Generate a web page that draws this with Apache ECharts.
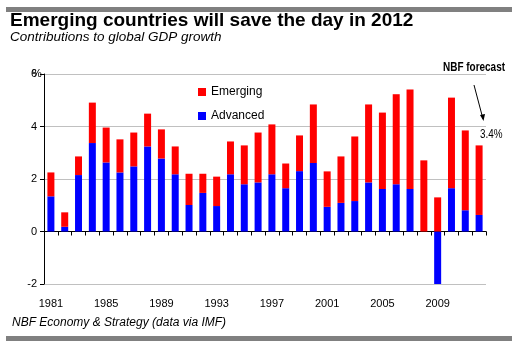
<!DOCTYPE html>
<html><head><meta charset="utf-8">
<script src="https://cdn.jsdelivr.net/npm/echarts@6/dist/echarts.min.js"></script>
<style>html,body{margin:0;padding:0;background:#fff;}#c{width:526px;height:348px;}</style>
</head><body><div id="c"></div>
<script>
var years = ['1981','1982','1983','1984','1985','1986','1987','1988','1989','1990','1991','1992','1993','1994','1995','1996','1997','1998','1999','2000','2001','2002','2003','2004','2005','2006','2007','2008','2009','2010','2011','2012'];
var advanced = [1.34,0.18,2.15,3.37,2.63,2.25,2.48,3.24,2.78,2.18,1.01,1.47,0.97,2.18,1.80,1.87,2.18,1.65,2.30,2.61,0.94,1.09,1.16,1.87,1.62,1.80,1.62,0,-2.04,1.65,0.81,0.63];
var emerging = [0.91,0.55,0.71,1.54,1.33,1.26,1.29,1.25,1.11,1.06,1.19,0.73,1.12,1.25,1.48,1.90,1.90,0.94,1.36,2.23,1.35,1.77,2.46,2.97,2.91,3.43,3.79,2.71,1.30,3.45,3.04,2.65];
var yTicks = [-2,0,2,4,6];

var FONT = 'Arial, "Liberation Sans", sans-serif';
var chart = echarts.init(document.getElementById('c'), null, {renderer:'canvas'});
chart.setOption({
  animation:false,
  backgroundColor:'#fff',
  grid:{left:44,right:40,top:74,bottom:64},
  legend:{
    data:['Emerging','Advanced'], orient:'vertical', left:193, top:81,
    itemWidth:8, itemHeight:8, itemGap:12, icon:'rect',
    textStyle:{fontFamily:FONT,fontSize:12,color:'#000'}
  },
  xAxis:[{
    type:'category', data:years, boundaryGap:true,
    axisLine:{onZero:true,lineStyle:{color:'#000',width:1}},
    axisTick:{show:true,inside:false,length:4,interval:0,lineStyle:{color:'#000'}},
    axisLabel:{show:false}, splitLine:{show:false}
  },{
    type:'category', data:years, position:'bottom', boundaryGap:true,
    axisLine:{show:false,onZero:false}, axisTick:{show:false},
    axisLabel:{show:true,interval:3,margin:14,fontFamily:FONT,fontSize:11,color:'#000'}
  }],
  yAxis:{
    type:'value', min:yTicks[0], max:yTicks[yTicks.length-1], interval:2,
    axisLine:{show:true,lineStyle:{color:'#000'}},
    axisTick:{show:true,length:4,lineStyle:{color:'#000'}},
    axisLabel:{margin:7,fontFamily:FONT,fontSize:11,color:'#000',
      formatter:function(v){return String(v);}},
    splitLine:{show:true,lineStyle:{color:'#c0c0c0',width:1}}
  },
  series:[{
    name:'Advanced', type:'bar', stack:'gdp', data:advanced, barWidth:7,
    itemStyle:{color:'#0000ff'}, xAxisIndex:0
  },{
    name:'Emerging', type:'bar', stack:'gdp', data:emerging, barWidth:7,
    itemStyle:{color:'#ff0000'}, xAxisIndex:0
  }],
  graphic:[
    {type:'rect',shape:{x:6,y:7,width:506,height:5},style:{fill:'#808080'}},
    {type:'rect',shape:{x:6,y:336,width:506,height:5},style:{fill:'#808080'}},
    {type:'text',style:{x:10,y:21,text:'Emerging countries will save the day in 2012',font:'bold 19px '+FONT,fill:'#000',verticalAlign:'middle'}},
    {type:'text',style:{x:10,y:37,text:'Contributions to global GDP growth',font:'italic 13.5px '+FONT,fill:'#000',verticalAlign:'middle'}},
    {type:'text',style:{x:12,y:323,text:'NBF Economy & Strategy (data via IMF)',font:'italic 12px '+FONT,fill:'#000',verticalAlign:'middle'}},
    {type:'text',style:{x:32,y:74,text:'%',font:'11px '+FONT,fill:'#000',verticalAlign:'middle'}},
    {type:'text',x:443,y:68,scaleX:0.83,style:{x:0,y:0,text:'NBF forecast',font:'bold 12px '+FONT,fill:'#000',verticalAlign:'middle'}},
    {type:'text',x:480,y:134,scaleX:0.76,style:{x:0,y:0,text:'3.4%',font:'13px '+FONT,fill:'#000',verticalAlign:'middle'}},
    {type:'line',shape:{x1:474,y1:85,x2:483,y2:119},style:{stroke:'#000',lineWidth:1}},
    {type:'polygon',shape:{points:[[483.5,121],[480,115],[485,114]]},style:{fill:'#000'}}
  ]
});
</script></body></html>
